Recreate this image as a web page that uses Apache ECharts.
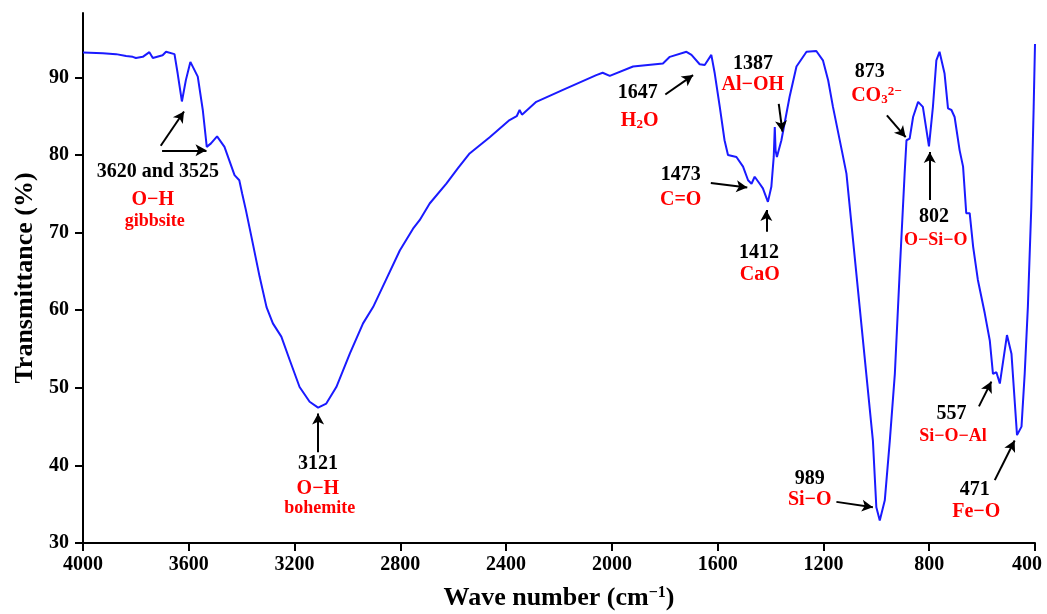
<!DOCTYPE html>
<html>
<head>
<meta charset="utf-8">
<script src="https://cdn.jsdelivr.net/npm/echarts@6/dist/echarts.min.js"></script>
<style>
  html, body { margin: 0; padding: 0; background: #fff; }
  #chart { width: 1047px; height: 614px; }
</style>
</head>
<body>
<div id="chart"></div>
<script>
// FTIR spectrum: wave number (cm-1) and transmittance (%)
const waveNumbers = [4000, 3925, 3875, 3837, 3812, 3800, 3774, 3749, 3743, 3736, 3730, 3699, 3686, 3680, 3654, 3642, 3626, 3611, 3594, 3566,
  3547, 3532, 3516, 3493, 3465, 3427, 3409, 3398, 3384, 3363, 3332, 3306, 3282, 3250, 3218, 3181, 3143, 3111, 3080, 3042,
  2991, 2941, 2903, 2853, 2802, 2752, 2727, 2689, 2626, 2582, 2538, 2462, 2387, 2360, 2349, 2340, 2286, 2185, 2059, 2035, 2008, 1920,
  1807, 1781, 1718, 1699, 1668, 1649, 1624, 1611, 1592, 1574, 1561, 1529, 1504, 1485, 1472, 1460, 1441, 1429, 1410, 1397,
  1388, 1384, 1381, 1376, 1359, 1328, 1302, 1264, 1227, 1202, 1182, 1164, 1130, 1113, 1088, 1063, 1038, 1013, 1000, 987, 968,
  949, 930, 912, 893, 886, 874, 861, 842, 824, 801, 786, 773, 761, 742, 729, 716, 704, 685, 672, 660,
  647, 634, 616, 590, 571, 559, 546, 533, 506, 489, 477, 468, 451, 439, 427, 414, 405, 400];
const transmittance = [93.2, 93.1, 93.0, 92.75, 92.65, 92.5, 92.65, 93.25, 93.1, 92.5, 92.6, 92.85, 93.3, 93.3, 93.0, 90.5, 86.9, 89.65, 92.0, 90.1,
  85.8, 81.05, 81.5, 82.4, 81.05, 77.4, 76.75, 75.0, 72.9, 69.45, 64.3, 60.4, 58.3, 56.6, 53.55, 50.1, 48.2, 47.45, 47.97, 50.1,
  54.4, 58.3, 60.4, 64.0, 67.7, 70.5, 71.6, 73.75, 76.3, 78.3, 80.2, 82.3, 84.5, 85.0, 85.8, 85.2, 86.85, 88.4, 90.3, 90.6, 90.2, 91.4,
  91.8, 92.65, 93.3, 92.9, 91.7, 91.6, 92.9, 90.5, 86.2, 81.9, 80.0, 79.75, 78.5, 76.75, 76.3, 77.2, 76.3, 75.7, 73.96, 75.9,
  79.75, 83.6, 80.6, 79.75, 81.9, 87.5, 91.4, 93.3, 93.4, 92.2, 89.6, 86.2, 80.5, 77.6, 69.0, 60.4, 51.8, 43.2, 34.6, 32.9, 35.5,
  43.2, 51.8, 64.7, 77.6, 81.9, 82.1, 84.9, 86.85, 86.2, 81.1, 86.2, 92.2, 93.3, 90.5, 86.0, 85.8, 84.9, 80.6, 78.5, 72.5,
  72.5, 68.2, 63.9, 59.6, 56.1, 51.8, 52.0, 50.55, 56.8, 54.4, 48.4, 43.9, 45.0, 51.8, 60.4, 73.3, 86.2, 94.3];

const yTicks = [30, 40, 50, 60, 70, 80, 90];

// peak annotations: [wave number, transmittance, text, style]
const annotations = [
  [3717, 77.8, '3620 and 3525', 'num'],
  [3736, 74.2, 'O\u2212H', 'name'],
  [3729, 71.5, 'gibbsite', 'small'],
  [3111, 40.2, '3121', 'num'],
  [3112, 37.0, 'O\u2212H', 'name'],
  [3105, 34.5, 'bohemite', 'small'],
  [1902, 88.0, '1647', 'num'],
  [1895, 84.4, '{r|H}{sub|2}{r|O}', 'name'],
  [1466, 91.8, '1387', 'num'],
  [1467, 89.0, 'Al\u2212OH', 'name'],
  [1740, 77.5, '1473', 'num'],
  [1740, 74.2, 'C=O', 'name'],
  [1444, 67.4, '1412', 'num'],
  [1441, 64.5, 'CaO', 'name'],
  [1025, 90.7, '873', 'num'],
  [1000, 87.6, '{r|CO}{sub|3}{sup|2\u2212}', 'name'],
  [782, 72.0, '802', 'num'],
  [775, 69.0, 'O\u2212Si\u2212O', 'small'],
  [1252, 38.3, '989', 'num'],
  [1252, 35.5, 'Si\u2212O', 'name'],
  [716, 46.7, '557', 'num'],
  [710, 43.8, 'Si\u2212O\u2212Al', 'small'],
  [628, 36.9, '471', 'num'],
  [622, 34.0, 'Fe\u2212O', 'name']
];

// arrows: from [wn, T] to [wn, T]
const arrows = [
  [[3706, 81.2], [3618, 85.6]],
  [[3701, 80.6], [3533, 80.6]],
  [[3111, 41.7], [3111, 46.7]],
  [[1798, 87.8], [1693, 90.3]],
  [[1369, 86.6], [1355, 83.0]],
  [[1626, 76.4], [1488, 75.8]],
  [[1416, 70.1], [1416, 72.9]],
  [[960, 85.1], [889, 82.3]],
  [[798, 74.2], [798, 80.4]],
  [[1151, 35.3], [1013, 34.6]],
  [[612, 47.6], [565, 50.8]],
  [[552, 38.1], [477, 43.2]]
];

const FONT = '"Liberation Serif", "Times New Roman", serif';
const styles = {
  num: { color: '#000000', fontSize: 20 },
  name: { color: '#ff0000', fontSize: 20 },
  small: { color: '#ff0000', fontSize: 18 }
};

const chart = echarts.init(document.getElementById('chart'));

const option = {
  animation: false,
  backgroundColor: '#fff',
  grid: { left: 83, right: 12, top: 13, bottom: 71, outerBoundsMode: 'none', containLabel: false },
  xAxis: {
    type: 'value',
    inverse: true,
    min: 400,
    max: 4000,
    interval: 400,
    name: 'Wave number (cm{sup|\u22121})',
    nameLocation: 'middle',
    nameGap: 42,
    nameTextStyle: {
      fontFamily: FONT, fontSize: 26, fontWeight: 'bold', color: '#000',
      rich: { sup: { fontFamily: FONT, fontSize: 16, fontWeight: 'bold', color: '#000', verticalAlign: 'top', padding: [0, 0, 10, 0] } }
    },
    axisLine: { show: true, lineStyle: { color: '#000', width: 2 } },
    axisTick: { show: true, length: 8, lineStyle: { color: '#000', width: 2 } },
    axisLabel: {
      fontFamily: FONT, fontSize: 20, fontWeight: 'bold', color: '#000', margin: 12,
      formatter: v => (v === 400 ? '{end|400}' : String(v)),
      rich: { end: { fontFamily: FONT, fontSize: 20, fontWeight: 'bold', color: '#000', padding: [0, 16, 0, 0] } }
    },
    splitLine: { show: false }
  },
  yAxis: {
    type: 'value',
    min: 30,
    max: 98.3,
    name: 'Transmittance (%)',
    nameLocation: 'middle',
    nameGap: 42,
    nameTextStyle: { fontFamily: FONT, fontSize: 26, fontWeight: 'bold', color: '#000' },
    axisLine: { show: true, lineStyle: { color: '#000', width: 2 } },
    axisTick: { show: true, length: 8, customValues: yTicks, lineStyle: { color: '#000', width: 2 } },
    axisLabel: { fontFamily: FONT, fontSize: 20, fontWeight: 'bold', color: '#000', margin: 14, customValues: yTicks, formatter: v => String(v) },
    splitLine: { show: false }
  },
  series: [
    {
      type: 'line',
      data: waveNumbers.map((w, i) => [w, transmittance[i]]),
      showSymbol: false,
      lineStyle: { color: '#1a1aff', width: 2 },
      silent: true,
      markLine: {
        silent: true,
        symbol: ['none', 'arrow'],
        symbolSize: [9, 11],
        label: { show: false },
        lineStyle: { color: '#000', width: 2, type: 'solid' },
        data: arrows.map(a => [{ coord: a[0] }, { coord: a[1] }])
      }
    },
    {
      type: 'scatter',
      silent: true,
      symbolSize: 1,
      itemStyle: { color: 'rgba(0,0,0,0)', opacity: 1 },
      data: annotations.map(a => {
        const s = styles[a[3]];
        return {
          value: [a[0], a[1]],
          label: {
            show: true,
            position: 'inside',
            formatter: a[2],
            fontFamily: FONT,
            fontWeight: 'bold',
            fontSize: s.fontSize,
            color: s.color,
            opacity: 1,
            textBorderWidth: 0,
            rich: {
              r: { fontFamily: FONT, fontWeight: 'bold', fontSize: s.fontSize, color: s.color },
              sub: { fontFamily: FONT, fontWeight: 'bold', fontSize: 13, color: s.color, verticalAlign: 'bottom', padding: [8, 0, 0, 0] },
              sup: { fontFamily: FONT, fontWeight: 'bold', fontSize: 13, color: s.color, verticalAlign: 'top', padding: [0, 0, 8, 0] }
            }
          }
        };
      })
    }
  ]
};

chart.setOption(option);
</script>
</body>
</html>
